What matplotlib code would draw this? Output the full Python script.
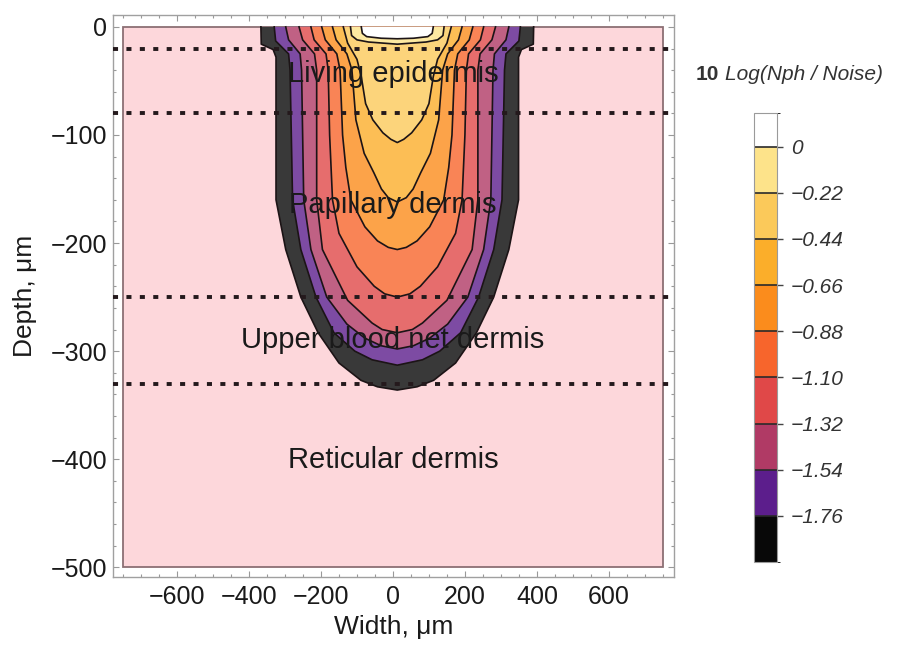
import numpy as np
import matplotlib.pyplot as plt
from matplotlib.colors import ListedColormap, BoundaryNorm, to_rgba
from matplotlib.cm import ScalarMappable
from matplotlib.patches import Rectangle

plt.rcParams['font.family'] = ['Liberation Sans', 'DejaVu Sans']

# %% data
# contour levels of 10 Log(Nph / Noise), outermost first
levels = [-1.98, -1.76, -1.54, -1.32, -1.10, -0.88, -0.66, -0.44, -0.22, 0.0]
cbar_ticks = [-1.76, -1.54, -1.32, -1.10, -0.88, -0.66, -0.44, -0.22, 0.0]
cbar_labels = ['\u22121.76', '\u22121.54', '\u22121.32', '\u22121.10', '\u22120.88',
               '\u22120.66', '\u22120.44', '\u22120.22', '0']
cbar_top = 0.16
# one colour per band, from (-1.98, -1.76) up to (> 0)
band_colors = ['#080808', '#5c1e8c', '#b03a65', '#e04848', '#f7652c',
               '#fb8c1c', '#fbae2a', '#fbc95a', '#fde38a', '#ffffff']

# beam centre (um) and, for every level, depth (um) vs half width (um) of the contour
beam_center = 12
contour_depth = [
    [0, -16, -21, -28, -160, -206, -250, -283, -311, -327, -333, -336],
    [0, -13, -25, -40, -160, -206, -250, -283, -300, -308, -313],
    [0, -12, -25, -40, -160, -206, -250, -275, -288, -295, -298],
    [0, -12, -25, -40, -160, -206, -253, -274, -280, -283],
    [0, -12, -25, -40, -100, -160, -191, -222, -240, -247, -250],
    [0, -12, -25, -40, -100, -130, -160, -185, -198, -204, -206],
    [0, -12, -25, -40, -86, -117, -135, -150, -158, -162],
    [0, -15, -30, -46, -71, -86, -98, -104, -107],
    [0, -8, -12, -14, -15, -16],
    [0, -6, -9, -10.5, -11],
]
contour_half = [
    [379, 378, 345, 337, 337, 310, 268, 220, 162, 101, 55, 0],
    [342, 338, 302, 298, 291, 268, 226, 176, 118, 70, 0],
    [310, 302, 270, 266, 260, 240, 196, 140, 90, 45, 0],
    [273, 263, 230, 224, 224, 208, 138, 70, 42, 0],
    [240, 231, 198, 192, 188, 180, 162, 112, 64, 35, 0],
    [210, 200, 168, 159, 152, 143, 129, 90, 55, 25, 0],
    [180, 170, 140, 126, 115, 92, 65, 44, 25, 0],
    [150, 138, 112, 100, 88, 68, 40, 18, 0],
    [130, 127, 112, 80, 40, 0],
    [100, 97, 85, 45, 0],
]

# skin layers
layer_bounds = [-20, -80, -250, -330]
layer_names = ['Living epidermis', 'Papillary dermis', 'Upper blood net dermis', 'Reticular dermis']
layer_label_depth = [-44, -165, -290, -401]

# %% plot
# contour fills are a bit washed out compared to the legend
plot_colors = [tuple(0.8 * np.array(to_rgba(c)[:3]) + 0.2) for c in band_colors]

fig = plt.figure(figsize=(9.07, 6.52), dpi=100)
ax = fig.add_axes([0.1246, 0.115, 0.6185, 0.862])

ax.add_patch(Rectangle((-750, -500), 1500, 500, fc='#fdd7db', ec='#8c6f74', lw=1.3, zorder=0))

for lev, d, w, c in zip(levels, contour_depth, contour_half, plot_colors):
    d = np.array(d, dtype=float)
    w = np.array(w, dtype=float)
    xs = np.concatenate([beam_center + w, (beam_center - w)[::-1]])
    ys = np.concatenate([d, d[::-1]])
    ax.fill(xs, ys, color=c, lw=0, zorder=1)
    ax.plot(xs, ys, color='#1c1416', lw=1.2, zorder=2)

for yb in layer_bounds:
    ax.axhline(yb, color='#24191c', lw=2.8, ls=(0, (1.3, 2.15)), zorder=3)

for name, yl in zip(layer_names, layer_label_depth):
    ax.text(0, yl, name, ha='center', va='center', fontsize=21, color='#1a1a1a', zorder=4)

ax.set_xlim(-778, 781)
ax.set_ylim(-509, 11)
ax.set_xticks(np.arange(-600, 601, 200))
ax.set_yticks(np.arange(-500, 1, 100))
ax.set_xticks(np.arange(-750, 751, 50), minor=True)
ax.set_yticks(np.arange(-500, 1, 20), minor=True)
for s in ax.spines.values():
    s.set_color('#a0a0a0')
    s.set_linewidth(1)
ax.tick_params(which='both', direction='in', top=True, right=True, color='#999999', width=0.8)
ax.tick_params(which='major', length=4, labelsize=18, labelcolor='#1a1a1a')
ax.tick_params(which='minor', length=2)
ax.tick_params(axis='x', pad=6)
ax.tick_params(axis='y', pad=4)
ax.set_xlabel('Width, \u03bcm', fontsize=19, color='#1a1a1a', labelpad=4)
ax.set_ylabel('Depth, \u03bcm', fontsize=19, color='#1a1a1a', labelpad=10)

# colour legend
cax = fig.add_axes([0.8313, 0.138, 0.0254, 0.6887])
cmap = ListedColormap(band_colors)
bounds = levels + [cbar_top]
norm = BoundaryNorm(bounds, cmap.N)
cb = fig.colorbar(ScalarMappable(norm=norm, cmap=cmap), cax=cax, ticks=cbar_ticks,
                  spacing='proportional', drawedges=True)
cb.dividers.set_color('#2a2a2a')
cb.dividers.set_linewidth(1.2)
cb.outline.set_edgecolor('#9a9a9a')
cb.outline.set_linewidth(0.8)
cax.set_yticklabels(cbar_labels, fontsize=15, style='italic', color='#333333')
cax.tick_params(length=4, width=1, color='#444444', pad=6)

t1 = fig.text(0.767, 0.877, '10', fontsize=15, weight='bold', color='#333333')
ax.annotate('Log(Nph / Noise)', xy=(1, 0), xycoords=t1, xytext=(4, 0),
            textcoords='offset points', va='bottom', fontsize=15, style='italic',
            color='#333333', annotation_clip=False)

fig.savefig('out.png', dpi=100)
plt.close(fig)
